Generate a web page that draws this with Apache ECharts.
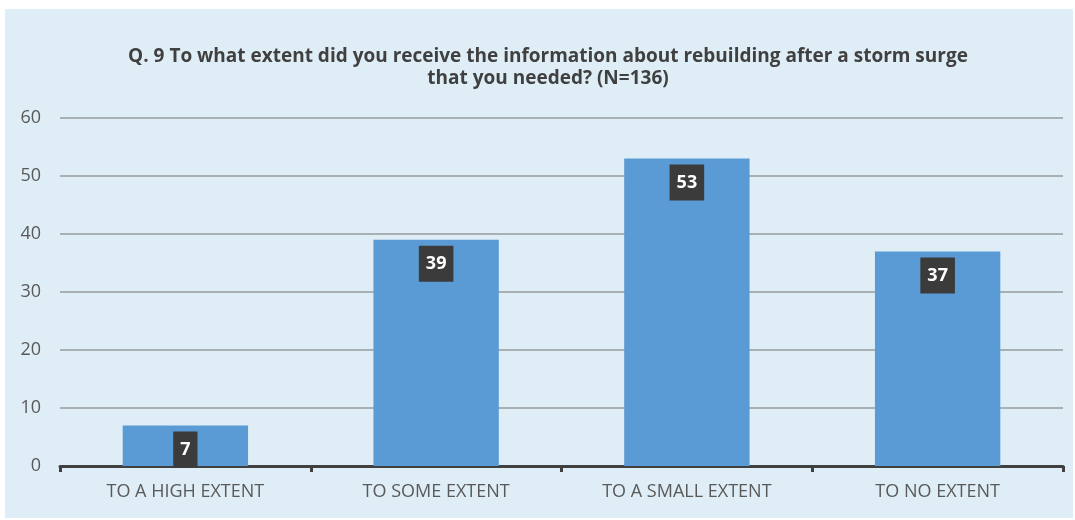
<!DOCTYPE html>
<html>
<head>
<meta charset="utf-8">
<script src="https://cdn.jsdelivr.net/npm/echarts@6/dist/echarts.min.js"></script>
<style>
  html, body { margin: 0; padding: 0; background: #fff; }
  #panel { position: absolute; left: 5px; top: 9px; width: 1068px; height: 509px; background: #DFEEF6; }
  #chart { position: absolute; left: 0; top: 0; width: 1075px; height: 520px; }
</style>
</head>
<body>
<div id="panel"></div>
<div id="chart"></div>
<script>
const categories = ['TO A HIGH EXTENT', 'TO SOME EXTENT', 'TO A SMALL EXTENT', 'TO NO EXTENT'];
const counts = [7, 39, 53, 37];

const chart = echarts.init(document.getElementById('chart'));

const option = {
  backgroundColor: 'transparent',
  animation: false,
  title: {
    text: 'Q. 9 To what extent did you receive the information about rebuilding after a storm surge\nthat you needed? (N=136)',
    left: 543,
    top: 41,
    textAlign: 'center',
    textStyle: {
      fontFamily: 'Open Sans',
      fontSize: 19,
      fontWeight: 'bold',
      color: '#404040',
      lineHeight: 22
    }
  },
  grid: { left: 60, right: 12, top: 118, bottom: 54 },
  xAxis: {
    type: 'category',
    data: categories,
    axisLine: { lineStyle: { color: '#404040', width: 3 } },
    axisTick: { show: true, length: 6, lineStyle: { color: '#404040', width: 3 } },
    axisLabel: { fontSize: 18, color: '#595959', margin: 17, fontFamily: 'Open Sans' }
  },
  yAxis: {
    type: 'value',
    min: 0,
    max: 60,
    interval: 10,
    axisLine: { show: false },
    axisTick: { show: false },
    axisLabel: { fontSize: 18, color: '#595959', margin: 19, fontFamily: 'Open Sans' },
    splitLine: { lineStyle: { color: '#A9B0B4', width: 2 } }
  },
  series: [{
    type: 'bar',
    data: counts,
    barWidth: '50%',
    itemStyle: { color: '#5B9BD5' },
    label: {
      show: true,
      position: 'insideTop',
      distance: 6,
      backgroundColor: '#3b3b3b',
      color: '#ffffff',
      fontWeight: 'bold',
      fontSize: 18,
      fontFamily: 'Open Sans',
      padding: [9, 7]
    }
  }]
};

chart.setOption(option);
</script>
</body>
</html>
